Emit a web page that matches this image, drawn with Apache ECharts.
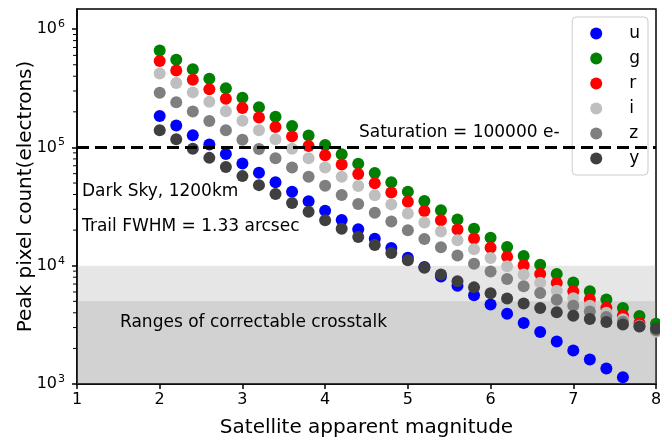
<!DOCTYPE html>
<html>
<head>
<meta charset="utf-8">
<script src="https://cdn.jsdelivr.net/npm/echarts@6/dist/echarts.min.js"></script>
<style>
html,body{margin:0;padding:0;background:#fff}
#chart{width:660px;height:441px}
</style>
</head>
<body>
<div id="chart"></div>
<script>
// satellite apparent magnitude (x)
const magnitudes = [2.0,2.2,2.4,2.6,2.8,3.0,3.2,3.4,3.6,3.8,4.0,4.2,4.4,4.6,4.8,5.0,5.2,5.4,5.6,5.8,6.0,6.2,6.4,6.6,6.8,7.0,7.2,7.4,7.6,7.8,8.0];

// peak pixel counts per band (electrons)
const uBand = [184000,153000,127000,106000,88100,73300,61000,50800,42200,35100,29200,24300,20300,16900,14100,11700,9740,8120,6760,5640,4700,3930,3280,2750,2290,1920,1610,1350,1140,961,812];
const gBand = [661000,550000,457000,380000,317000,263000,219000,182000,152000,126000,105000,87600,72900,60800,50700,42200,35300,29400,24600,20500,17200,14400,12100,10200,8520,7200,6090,5170,4400,3760,3230];
const rBand = [539000,448000,373000,310000,258000,215000,179000,149000,124000,103000,86000,71600,59700,49800,41500,34700,29000,24200,20200,17000,14200,11900,10100,8500,7160,6080,5180,4420,3790,3280,2840];
const iBand = [421000,351000,292000,243000,202000,168000,140000,117000,97300,81100,67700,56500,47100,39400,33000,27600,23200,19500,16400,13800,11600,9880,8410,7190,6140,5300,4590,4010,3520,3110,2770];
const zBand = [290000,241000,201000,167000,140000,116000,97100,81000,67700,56600,47400,39700,33300,28000,23600,19900,16800,14300,12200,10400,8930,7720,6710,5880,5160,4580,4100,3690,3360,3080,2850];
const yBand = [140000,117000,97600,81600,68300,57200,48000,40300,33900,28600,24200,20500,17500,15000,12800,11100,9620,8410,7400,6560,5850,5280,4790,4400,4050,3780,3550,3350,3190,3060,2950];

const bandNames = ['u','g','r','i','z','y'];
const bandValues = [uBand,gBand,rBand,iBand,zBand,yBand];
const bandColors = ['#0000ff','#008000','#ff0000','#bfbfbf','#7f7f7f','#3f3f3f'];

const saturation = 100000;
const crosstalkRanges = [[1000,10000],[1000,5000]];
const yMinorTicks = [2000,3000,4000,5000,6000,7000,8000,9000,20000,30000,40000,50000,60000,70000,80000,90000,200000,300000,400000,500000,600000,700000,800000,900000];

const font = 'DejaVu Sans';

let myChart = echarts.init(document.getElementById('chart'));

let series = bandNames.map((name, k) => ({
  name: name,
  type: 'scatter',
  symbol: 'circle',
  symbolSize: 12,
  itemStyle: { color: bandColors[k], opacity: 1 },
  data: magnitudes.map((m, i) => [m, bandValues[k][i]]),
  z: 2
}));

// saturation line
series.unshift({
  type: 'line',
  data: [],
  z: 1,
  markLine: {
    silent: true,
    symbol: ['none','none'],
    label: { show: false },
    lineStyle: { color: '#000', width: 3, type: [12,6] },
    data: [{ yAxis: saturation }]
  }
});

// grey crosstalk spans, drawn over the points like the original
series.push({
  type: 'line',
  data: [],
  z: 5,
  markArea: {
    silent: true,
    itemStyle: { color: 'rgba(128,128,128,0.2)' },
    data: crosstalkRanges.map(r => [{ yAxis: r[0] }, { yAxis: r[1] }])
  }
});

// minor ticks of the log axis (custom series, outside the plot box)
series.push({
  type: 'custom',
  silent: true,
  clip: false,
  z: 6,
  encode: { x: 0, y: 1 },
  data: yMinorTicks.map(v => [1, v]),
  renderItem: function (params, api) {
    const p = api.coord([api.value(0), api.value(1)]);
    return {
      type: 'rect',
      shape: { x: p[0] - 4, y: p[1] - 0.5, width: 4, height: 1 },
      style: { fill: '#000' }
    };
  }
});

myChart.setOption({
  animation: false,
  backgroundColor: '#fff',
  textStyle: { fontFamily: font },
  grid: {
    left: 77, right: 4, top: 9, bottom: 57,
    outerBoundsMode: 'none',
    show: true, borderColor: '#000', borderWidth: 1.5, backgroundColor: 'transparent'
  },
  legend: {
    data: bandNames,
    orient: 'vertical',
    right: 12,
    top: 17,
    icon: 'circle',
    itemWidth: 12,
    itemHeight: 12,
    itemGap: 8,
    padding: [8, 8, 8, 18],
    backgroundColor: 'rgba(255,255,255,0.8)',
    borderColor: '#cccccc',
    borderWidth: 1,
    borderRadius: 4,
    textStyle: { fontSize: 17, color: '#000', fontFamily: font, padding: [0, 0, 0, 22] }
  },
  xAxis: {
    type: 'value',
    min: 1,
    max: 8,
    interval: 1,
    name: 'Satellite apparent magnitude',
    nameLocation: 'middle',
    nameGap: 34,
    nameTextStyle: { fontSize: 20, color: '#000', fontFamily: font },
    axisLine: { show: true, lineStyle: { color: '#000', width: 1.5 } },
    axisTick: { show: true, inside: false, length: 5, lineStyle: { color: '#000', width: 1.5 } },
    axisLabel: { fontSize: 16, color: '#000', margin: 8, fontFamily: font },
    splitLine: { show: false }
  },
  yAxis: {
    type: 'log',
    logBase: 10,
    min: 1000,
    max: 1480000,
    name: 'Peak pixel count(electrons)',
    nameLocation: 'middle',
    nameGap: 41,
    nameMoveOverlap: false,
    nameTextStyle: { fontSize: 20, color: '#000', fontFamily: font },
    axisLine: { show: true, lineStyle: { color: '#000', width: 1.5 } },
    axisTick: { show: true, inside: false, length: 5, lineStyle: { color: '#000', width: 1.5 } },
    minorTick: { show: false },
    axisLabel: {
      color: '#000',
      margin: 12,
      showMaxLabel: false,
      formatter: function (v) {
        let e = Math.log10(v);
        if (Math.abs(e - Math.round(e)) > 1e-6) return '';
        return '10{sup|' + Math.round(e) + '}';
      },
      rich: {
        sup: { fontSize: 11, verticalAlign: 'top', padding: [0, 0, 10, 1], fontFamily: font, color: '#000' }
      },
      fontSize: 16,
      fontFamily: font
    },
    splitLine: { show: false }
  },
  graphic: [
    { type: 'text', x: 359, y: 133, z: 10, style: { text: 'Saturation = 100000 e-', fontSize: 17, fontFamily: font, fill: '#000', verticalAlign: 'middle' } },
    { type: 'text', x: 82, y: 192, z: 10, style: { text: 'Dark Sky, 1200km', fontSize: 17, fontFamily: font, fill: '#000', verticalAlign: 'middle' } },
    { type: 'text', x: 82, y: 227, z: 10, style: { text: 'Trail FWHM = 1.33 arcsec', fontSize: 17, fontFamily: font, fill: '#000', verticalAlign: 'middle' } },
    { type: 'text', x: 120, y: 323, z: 10, style: { text: 'Ranges of correctable crosstalk', fontSize: 17, fontFamily: font, fill: '#000', verticalAlign: 'middle' } }
  ],
  series: series
});
</script>
</body>
</html>
